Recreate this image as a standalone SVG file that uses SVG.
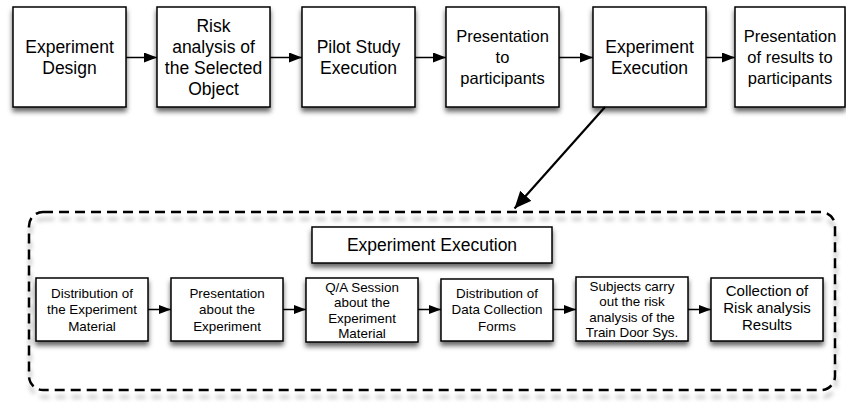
<svg xmlns="http://www.w3.org/2000/svg" width="846" height="405" viewBox="0 0 846 405">
<defs>
<filter id="sh" x="-20%" y="-20%" width="140%" height="150%">
<feDropShadow dx="0" dy="4" stdDeviation="2.5" flood-color="#000" flood-opacity="0.6"/>
</filter>
<filter id="shc" x="-5%" y="-10%" width="110%" height="125%">
<feDropShadow dx="1" dy="7" stdDeviation="2" flood-color="#000" flood-opacity="0.28"/>
</filter>
<marker id="ah" markerUnits="userSpaceOnUse" markerWidth="14" markerHeight="11" refX="13" refY="5" orient="auto">
<path d="M0,0 L13,5 L0,10 z" fill="#000"/>
</marker>
<marker id="ahs" markerUnits="userSpaceOnUse" markerWidth="13" markerHeight="10" refX="12" refY="4.5" orient="auto">
<path d="M0,0 L12,4.5 L0,9 z" fill="#000"/>
</marker>
<marker id="ahb" markerUnits="userSpaceOnUse" markerWidth="18" markerHeight="16" refX="17" refY="7.5" orient="auto">
<path d="M0,0 L17,7.5 L0,15 z" fill="#000"/>
</marker>
</defs>
<style>
.box{fill:#fff;stroke:#000;stroke-width:1.5;filter:url(#sh)}
.t{font-family:"Liberation Sans",Arial,Helvetica,sans-serif;fill:#000;text-anchor:middle}
.tl{font-size:17.5px}
.ts{font-size:13.4px}
.tc{font-size:15px}
.c{stroke:#000;stroke-width:1.5;fill:none}
</style>
<rect width="846" height="405" fill="#fff"/>

<g id="container">
<rect x="29" y="212" width="806" height="178" rx="14" ry="14" fill="none" stroke="#000" stroke-width="2.5" stroke-dasharray="10 6" filter="url(#shc)"/>
</g>

<g id="n1"><rect class="box" x="13" y="7" width="113" height="100"/>
<text class="t tl" x="69.5"><tspan x="69.5" y="53">Experiment</tspan><tspan x="69.5" y="74">Design</tspan></text></g>
<g id="n2"><rect class="box" x="157" y="7" width="113" height="100"/>
<text class="t tl" x="213.5"><tspan x="213.5" y="32">Risk</tspan><tspan x="213.5" y="53">analysis of</tspan><tspan x="213.5" y="74">the Selected</tspan><tspan x="213.5" y="95">Object</tspan></text></g>
<g id="n3"><rect class="box" x="302" y="7" width="113" height="100"/>
<text class="t tl"><tspan x="358.5" y="53">Pilot Study</tspan><tspan x="358.5" y="74">Execution</tspan></text></g>
<g id="n4"><rect class="box" x="446" y="7" width="113" height="100"/>
<text class="t tl" style="font-size:16.5px"><tspan x="502.5" y="42">Presentation</tspan><tspan x="502.5" y="63">to</tspan><tspan x="502.5" y="84">participants</tspan></text></g>
<g id="n5"><rect class="box" x="593" y="7" width="113" height="100"/>
<text class="t tl"><tspan x="649.5" y="53">Experiment</tspan><tspan x="649.5" y="74">Execution</tspan></text></g>
<g id="n6"><rect class="box" x="735" y="7" width="110" height="100"/>
<text class="t tl" style="font-size:16.5px"><tspan x="790" y="42">Presentation</tspan><tspan x="790" y="63">of results to</tspan><tspan x="790" y="84">participants</tspan></text></g>

<g id="title"><rect class="box" x="312" y="227" width="240" height="36"/>
<text class="t tl" x="432" y="251">Experiment Execution</text></g>

<g id="b1"><rect class="box" x="36" y="278" width="112" height="63"/>
<text class="t ts"><tspan x="92" y="298">Distribution of</tspan><tspan x="92" y="314">the Experiment</tspan><tspan x="92" y="330.5">Material</tspan></text></g>
<g id="b2"><rect class="box" x="171" y="278" width="112" height="63"/>
<text class="t ts"><tspan x="227" y="298">Presentation</tspan><tspan x="227" y="314">about the</tspan><tspan x="227" y="330.5">Experiment</tspan></text></g>
<g id="b3"><rect class="box" x="306" y="278" width="112" height="64"/>
<text class="t ts"><tspan x="362" y="291.5">Q/A Session</tspan><tspan x="362" y="307">about the</tspan><tspan x="362" y="322.5">Experiment</tspan><tspan x="362" y="338">Material</tspan></text></g>
<g id="b4"><rect class="box" x="441" y="279" width="112" height="62"/>
<text class="t ts"><tspan x="497" y="298">Distribution of</tspan><tspan x="497" y="314">Data Collection</tspan><tspan x="497" y="330.5">Forms</tspan></text></g>
<g id="b5"><rect class="box" x="576" y="277" width="112" height="64"/>
<text class="t ts"><tspan x="632" y="290.5">Subjects carry</tspan><tspan x="632" y="306">out the risk</tspan><tspan x="632" y="321.5">analysis of the</tspan><tspan x="632" y="337">Train Door Sys.</tspan></text></g>
<g id="b6"><rect class="box" x="711" y="278" width="112" height="63"/>
<text class="t tc"><tspan x="767" y="296">Collection of</tspan><tspan x="767" y="313">Risk analysis</tspan><tspan x="767" y="330">Results</tspan></text></g>

<g id="connectors">
<line class="c" x1="126" y1="57.5" x2="157" y2="57.5" marker-end="url(#ah)"/>
<line class="c" x1="270" y1="57.5" x2="302" y2="57.5" marker-end="url(#ah)"/>
<line class="c" x1="415" y1="57.5" x2="446" y2="57.5" marker-end="url(#ah)"/>
<line class="c" x1="559" y1="57.5" x2="593" y2="57.5" marker-end="url(#ah)"/>
<line class="c" x1="706" y1="57.5" x2="735" y2="57.5" marker-end="url(#ah)"/>
<line x1="605" y1="107" x2="514.5" y2="208.5" stroke="#000" stroke-width="2.2" marker-end="url(#ahb)"/>
<line class="c" x1="148" y1="309.5" x2="171" y2="309.5" marker-end="url(#ahs)"/>
<line class="c" x1="283" y1="309.5" x2="306" y2="309.5" marker-end="url(#ahs)"/>
<line class="c" x1="418" y1="309.5" x2="441" y2="309.5" marker-end="url(#ahs)"/>
<line class="c" x1="553" y1="309.5" x2="576" y2="309.5" marker-end="url(#ahs)"/>
<line class="c" x1="688" y1="309.5" x2="711" y2="309.5" marker-end="url(#ahs)"/>
</g>
</svg>
